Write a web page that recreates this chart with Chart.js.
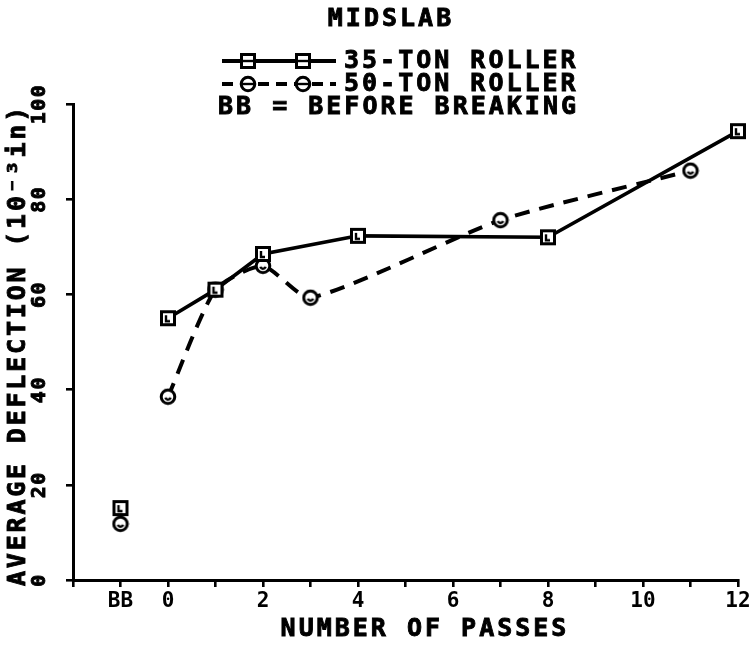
<!DOCTYPE html>
<html>
<head>
<meta charset="utf-8">
<script src="https://cdn.jsdelivr.net/npm/chart.js@4/dist/chart.umd.min.js"></script>
<style>
  html, body { margin: 0; padding: 0; background: #fff; }
  #wrap { width: 755px; height: 645px; }
</style>
</head>
<body>
<div id="wrap"><canvas id="deflChart"></canvas></div>
<script>
// Midslab deflection vs number of passes
const passes35 = [0, 1, 2, 4, 8, 12];
const defl35 = [55, 61, 68.5, 72.3, 72, 94.3];
const passes50 = [0, 1, 2, 3, 7, 11];
const defl50 = [38.5, 61, 66, 59.3, 75.6, 86];
// before breaking values, plotted at the "BB" position
const bbPos = -1;
const bb35 = [15.1];
const bb50 = [11.8];
const yTicks = [0, 20, 40, 60, 80, 100];
const xLabels = { '-1': 'BB', '0': '0', '2': '2', '4': '4', '6': '6', '8': '8', '10': '10', '12': '12' };

const FONT = "'DejaVu Sans Mono', monospace";

function squareMark(withBar) {
    const c = document.createElement('canvas');
    c.width = 18; c.height = 18;
    const g = c.getContext('2d');
    g.fillStyle = '#fff';
    g.fillRect(2, 2, 14, 14);
    g.strokeStyle = '#000';
    g.lineWidth = 3;
    g.strokeRect(2.5, 2.5, 13, 13);
    g.lineWidth = 2.4;
    g.beginPath();
    if (withBar) {
        g.moveTo(2, 9); g.lineTo(16, 9);
    } else {
        g.moveTo(7, 6); g.lineTo(7, 12); g.lineTo(11, 12);
    }
    g.stroke();
    return c;
}

function circleMark(withBar) {
    const c = document.createElement('canvas');
    c.width = 18; c.height = 18;
    const g = c.getContext('2d');
    g.fillStyle = '#fff';
    g.strokeStyle = '#000';
    g.lineWidth = 3;
    g.beginPath();
    g.arc(9, 9, 6.8, 0, Math.PI * 2);
    g.fill();
    g.stroke();
    g.lineWidth = 2.4;
    g.beginPath();
    if (withBar) {
        g.moveTo(2, 9); g.lineTo(16, 9);
    } else {
        g.arc(9, 9, 2.8, 0.1 * Math.PI, 0.9 * Math.PI);
    }
    g.stroke();
    return c;
}

const sq = squareMark(false), sqLeg = squareMark(true);
const ci = circleMark(false), ciLeg = circleMark(true);

function drawText(ctx, str, x, y, size, align, spacing) {
    ctx.save();
    ctx.font = 'bold ' + size + 'px ' + FONT;
    ctx.fillStyle = '#000';
    ctx.strokeStyle = '#000';
    ctx.lineWidth = 0.9;
    ctx.textAlign = align;
    ctx.textBaseline = 'middle';
    ctx.letterSpacing = spacing + 'px';
    ctx.fillText(str, x, y);
    ctx.strokeText(str, x, y);
    ctx.restore();
}

const textPlugin = {
    id: 'plotterText',
    afterDraw(chart) {
        const ctx = chart.ctx;
        const yScale = chart.scales.y;
        const area = chart.chartArea;

        // title and legend block
        drawText(ctx, 'MIDSLAB', 391, 19, 25, 'center', 3);

        const rows = [
            { y: 61, img: sqLeg, dash: [], text: '35-TON ROLLER' },
            { y: 84, img: ciLeg, dash: [11, 7], text: '50-TON ROLLER' }
        ];
        rows.forEach(r => {
            ctx.save();
            ctx.strokeStyle = '#000';
            ctx.lineWidth = 4;
            ctx.setLineDash(r.dash);
            ctx.beginPath();
            ctx.moveTo(222, r.y);
            ctx.lineTo(336, r.y);
            ctx.stroke();
            ctx.restore();
            ctx.drawImage(r.img, 248 - 9, r.y - 9);
            ctx.drawImage(r.img, 303 - 9, r.y - 9);
            drawText(ctx, r.text, 344, r.y, 25, 'left', 3);
        });
        drawText(ctx, 'BB = BEFORE BREAKING', 218, 107, 25, 'left', 3);

        // y tick labels, rotated
        yTicks.forEach(v => {
            const py = yScale.getPixelForValue(v);
            ctx.save();
            ctx.translate(40, py);
            ctx.rotate(-Math.PI / 2);
            drawText(ctx, String(v), 0, 0, 20, 'center', 1.5);
            ctx.restore();
        });

        // y axis title
        ctx.save();
        ctx.translate(18, (area.top + area.bottom) / 2 + 3);
        ctx.rotate(-Math.PI / 2);
        drawText(ctx, 'AVERAGE DEFLECTION (10\u207B\u00B3in)', 0, 0, 25, 'center', 2.8);
        ctx.restore();

        // x axis title
        drawText(ctx, 'NUMBER OF PASSES', 425, 629, 25, 'center', 3);
    }
};

new Chart(document.getElementById('deflChart'), {
    type: 'line',
    data: {
        datasets: [
            {
                label: '35-TON ROLLER',
                data: passes35.map((p, i) => ({ x: p, y: defl35[i] })),
                borderColor: '#000',
                borderWidth: 3.6,
                pointStyle: sq,
                tension: 0,
                clip: false
            },
            {
                label: '50-TON ROLLER',
                data: passes50.map((p, i) => ({ x: p, y: defl50[i] })),
                borderColor: '#000',
                borderWidth: 4,
                borderDash: [15, 10],
                pointStyle: ci,
                tension: 0.2,
                clip: false
            },
            {
                label: 'BB 35',
                data: bb35.map(v => ({ x: bbPos, y: v })),
                showLine: false,
                pointStyle: sq,
                clip: false
            },
            {
                label: 'BB 50',
                data: bb50.map(v => ({ x: bbPos, y: v })),
                showLine: false,
                pointStyle: ci,
                clip: false
            }
        ]
    },
    options: {
        responsive: true,
        maintainAspectRatio: false,
        animation: false,
        layout: {
            padding: { left: 0, top: 104, right: 17, bottom: 0 }
        },
        plugins: {
            legend: { display: false },
            title: { display: false },
            tooltip: { enabled: false }
        },
        scales: {
            x: {
                type: 'linear',
                min: -2,
                max: 12,
                afterFit: s => { s.height = 65; },
                border: { display: true, color: '#000', width: 3 },
                grid: {
                    drawOnChartArea: false,
                    drawTicks: true,
                    tickLength: 7,
                    color: '#000',
                    lineWidth: 2.6
                },
                ticks: {
                    stepSize: 1,
                    autoSkip: false,
                    maxRotation: 0,
                    padding: 2,
                    color: '#000',
                    font: { family: FONT, size: 21, weight: 'bold' },
                    callback: v => xLabels[String(v)] || ''
                }
            },
            y: {
                min: 0,
                max: 100,
                afterFit: s => { s.width = 73; },
                border: { display: true, color: '#000', width: 3 },
                grid: {
                    drawOnChartArea: false,
                    drawTicks: true,
                    tickLength: 7,
                    color: '#000',
                    lineWidth: 2.6
                },
                ticks: {
                    stepSize: 20,
                    display: false
                }
            }
        }
    },
    plugins: [textPlugin]
});
</script>
</body>
</html>
